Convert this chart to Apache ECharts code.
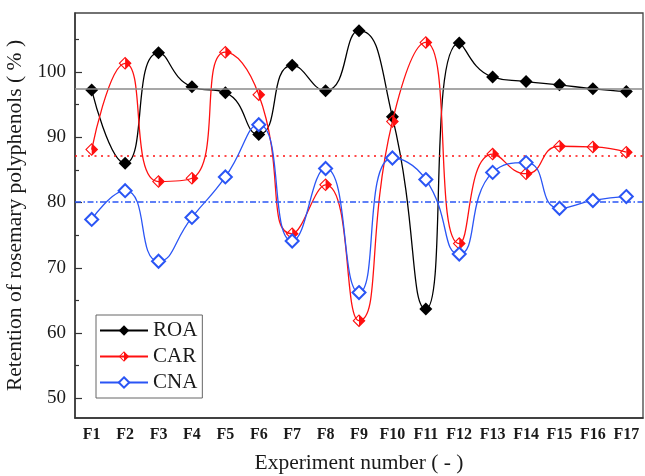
<!DOCTYPE html>
<html>
<head>
<meta charset="utf-8">
<script src="https://cdn.jsdelivr.net/npm/echarts@6/dist/echarts.min.js"></script>
<style>
  html, body { margin: 0; padding: 0; background: #fff; }
  #chart { width: 645px; height: 476px; }
</style>
</head>
<body>
<div id="chart"></div>
<script>
// experiments F1..F17
const categories = ['F1', 'F2', 'F3', 'F4', 'F5', 'F6', 'F7', 'F8', 'F9', 'F10', 'F11', 'F12', 'F13', 'F14', 'F15', 'F16', 'F17'];
const roa = [97.2, 86.0, 102.9, 97.7, 96.8, 90.4, 101.0, 97.1, 106.3, 93.1, 63.7, 104.4, 99.2, 98.5, 98.0, 97.4, 97.0];
const car = [88.1, 101.3, 83.2, 83.7, 103.0, 96.5, 75.2, 82.7, 61.9, 92.4, 104.5, 73.7, 87.4, 84.4, 88.6, 88.5, 87.7];
const cna = [77.4, 81.8, 71.0, 77.7, 83.9, 91.9, 74.1, 85.2, 66.2, 86.8, 83.5, 72.1, 84.6, 86.1, 79.1, 80.3, 80.9];

// horizontal reference levels
const roaRef = 97.4;
const carRef = 87.2;
const cnaRef = 80.1;

// y axis ticks
const yMajorTicks = [50, 60, 70, 80, 90, 100];
const yMinorTicks = [55, 65, 75, 85, 95, 105];

const FONT = '"Liberation Serif", "Times New Roman", serif';
const INK = '#1a1a1a';
const RED = '#ff1010';
const BLUE = '#2a55f5';

// diamond outline + filled right half (nonzero winding)
const halfDiamond = 'path://M10,0 L20,10 L10,20 L0,10 Z M10,2.4 L2.4,10 L10,17.6 L17.6,10 Z M10,0 L20,10 L10,20 Z';

function refLine(value, color, type) {
  return {
    silent: true,
    symbol: ['none', 'none'],
    label: { show: false },
    lineStyle: { color: color, width: 1.5, type: type },
    emphasis: { disabled: true },
    data: [{ yAxis: value }]
  };
}

const chart = echarts.init(document.getElementById('chart'));
chart.setOption({
  animation: false,
  textStyle: { fontFamily: FONT },
  grid: {
    left: 75, right: 2, top: 13, bottom: 58,
    outerBoundsMode: 'none',
    show: true, borderColor: '#444', borderWidth: 1.3
  },
  legend: {
    orient: 'vertical',
    left: 96, top: 315,
    data: ['ROA', 'CAR', 'CNA'],
    itemWidth: 48, itemHeight: 13, itemGap: 5,
    padding: [5, 5, 5, 3],
    borderColor: '#666', borderWidth: 1,
    textStyle: { fontFamily: FONT, fontSize: 21, color: INK }
  },
  xAxis: [{
    type: 'category',
    data: categories,
    boundaryGap: true,
    name: 'Experiment number ( - )',
    nameLocation: 'middle',
    nameGap: 34,
    nameTextStyle: { fontFamily: FONT, fontSize: 21.5, color: INK },
    axisLine: { lineStyle: { color: '#333', width: 1.5 } },
    axisTick: { alignWithLabel: true, interval: 0, inside: true, length: 7, lineStyle: { color: '#333', width: 1.2 } },
    axisLabel: { interval: 0, fontFamily: FONT, fontSize: 16, fontWeight: 'bold', color: INK, margin: 9 },
    splitLine: { show: false }
  }, {
    type: 'category',
    data: categories,
    boundaryGap: true,
    position: 'bottom',
    axisLine: { show: false },
    axisTick: { alignWithLabel: false, interval: 0, inside: true, length: 4, lineStyle: { color: '#333', width: 1.2 } },
    axisLabel: { show: false },
    splitLine: { show: false }
  }],
  yAxis: [{
    type: 'value',
    min: 47, max: 109,
    name: 'Retention of rosemary polyphenols ( % )',
    nameLocation: 'middle',
    nameGap: 39,
    nameTextStyle: { fontFamily: FONT, fontSize: 21.5, color: INK },
    axisLine: { show: true, lineStyle: { color: '#333', width: 1.5 } },
    axisTick: { show: true, inside: true, length: 7, customValues: yMajorTicks, lineStyle: { color: '#333', width: 1.2 } },
    axisLabel: { fontFamily: FONT, fontSize: 19, color: INK, margin: 9, customValues: yMajorTicks },
    splitLine: { show: false }
  }, {
    type: 'value',
    min: 47, max: 109,
    position: 'left',
    axisLine: { show: false },
    axisTick: { show: true, inside: true, length: 4, customValues: yMinorTicks, lineStyle: { color: '#333', width: 1.2 } },
    axisLabel: { show: false },
    splitLine: { show: false }
  }],
  series: [{
    name: 'ROA',
    type: 'line',
    data: roa,
    smooth: 0.55,
    symbol: 'diamond',
    symbolSize: 13,
    itemStyle: { color: '#000' },
    lineStyle: { color: '#000', width: 1.3 },
    markLine: refLine(roaRef, '#8a8a8a', 'solid'),
    z: 3
  }, {
    name: 'CAR',
    type: 'line',
    data: car,
    smooth: 0.55,
    symbol: halfDiamond,
    symbolSize: 13,
    itemStyle: { color: RED, borderWidth: 0 },
    lineStyle: { color: RED, width: 1.3 },
    markLine: refLine(carRef, RED, [2, 4.5]),
    z: 4
  }, {
    name: 'CNA',
    type: 'line',
    data: cna,
    smooth: 0.55,
    symbol: 'emptyDiamond',
    symbolSize: 13,
    itemStyle: { color: BLUE, borderWidth: 1.2 },
    lineStyle: { color: BLUE, width: 1.3 },
    markLine: refLine(cnaRef, BLUE, [6, 2.5, 1.5, 2.5]),
    z: 5
  }]
});
</script>
</body>
</html>
